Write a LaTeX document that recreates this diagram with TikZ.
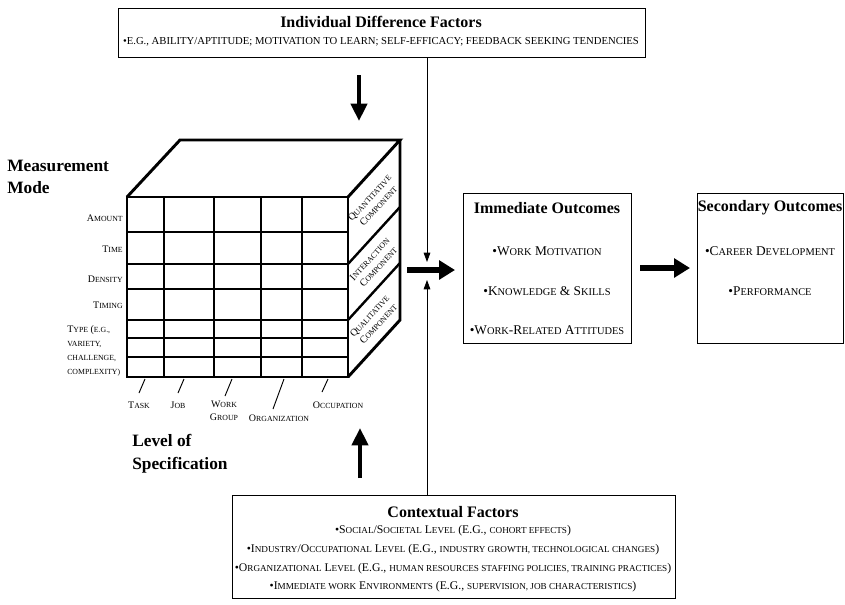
\documentclass[tikz,border=0pt]{standalone}
\usepackage{fontspec}
\setmainfont{Liberation Serif}
\usetikzlibrary{arrows.meta,fit}
\makeatletter
\newdimen\lcdim
\newcommand\lc[1]{{\lcdim=\f@size pt\lcdim=0.78\lcdim\fontsize{\lcdim}{\lcdim}\selectfont #1}}
\makeatother
\tikzset{
 box/.style={draw,line width=0.7pt,inner sep=0pt},
 ttl/.style={font=\fontsize{12}{14}\selectfont\bfseries,inner sep=0pt},
 bul/.style={font=\fontsize{10}{12}\selectfont,inner sep=0pt},
 ctxl/.style={font=\fontsize{8.8}{11}\selectfont,inner sep=0pt},
 axislbl/.style={font=\fontsize{13}{17}\selectfont\bfseries,inner sep=0pt,align=left,anchor=west},
 rowl/.style={font=\fontsize{7.5}{10.5}\selectfont,inner sep=0pt,anchor=east},
 coll/.style={font=\fontsize{7.5}{9.5}\selectfont,inner sep=0pt,align=center},
 sidel/.style={font=\fontsize{7.6}{9}\selectfont,inner sep=0pt,align=center,rotate=47.6},
 fatv/.style={line width=3pt,-{Triangle[length=13pt,width=12pt]}},
 fath/.style={line width=4pt,-{Triangle[length=12pt,width=14pt]}},
 thinarr/.style={line width=0.6pt,-{Triangle[length=7pt,width=5pt]}},
 outer/.style={line width=2.2pt,line join=miter},
 gridl/.style={line width=0.9pt},
 rowsep/.style={line width=1.8pt},
 tick/.style={line width=0.7pt},
}
\begin{document}
\begin{tikzpicture}[x=0.75pt,y=-0.75pt]
\useasboundingbox (0,0) rectangle (845,604);

% ---- boxes
\node[box,fit={(118,8) (645,57)}] (topbox) {};
\node[ttl] (toptitle) at (381,22) {Individual Difference Factors};
\node[inner sep=0pt,font=\fontsize{8}{10}\selectfont] (topline) at (381,42) {\textbullet E.G., ABILITY/APTITUDE; MOTIVATION TO LEARN; SELF-EFFICACY; FEEDBACK SEEKING TENDENCIES};

\node[box,fit={(463,193) (631,343)}] (imm) {};
\node[ttl] (immt) at (547,208) {Immediate Outcomes};
\node[bul] (imm1) at (547,251) {\textbullet W\lc{ORK} M\lc{OTIVATION}};
\node[bul] (imm2) at (547,291) {\textbullet K\lc{NOWLEDGE} \& S\lc{KILLS}};
\node[bul] (imm3) at (547,330) {\textbullet W\lc{ORK}-R\lc{ELATED} A\lc{TTITUDES}};

\node[box,fit={(697,193) (843,343)}] (sec) {};
\node[ttl] (sect) at (770,208) {Secondary Outcomes};
\node[bul] (sec1) at (770,251) {\textbullet C\lc{AREER} D\lc{EVELOPMENT}};
\node[bul] (sec2) at (770,291) {\textbullet P\lc{ERFORMANCE}};

\node[box,fit={(232,495) (675,598)}] (ctx) {};
\node[ttl] (ctxt) at (453,512) {Contextual Factors};
\node[ctxl] (ctx1) at (453,531) {\textbullet S\lc{OCIAL}/S\lc{OCIETAL} L\lc{EVEL} (E.G., \lc{COHORT EFFECTS})};
\node[ctxl] (ctx2) at (453,550) {\textbullet I\lc{NDUSTRY}/O\lc{CCUPATIONAL} L\lc{EVEL} (E.G., \lc{INDUSTRY GROWTH, TECHNOLOGICAL CHANGES})};
\node[ctxl] (ctx3) at (453,569) {\textbullet O\lc{RGANIZATIONAL} L\lc{EVEL} (E.G., \lc{HUMAN RESOURCES STAFFING POLICIES, TRAINING PRACTICES})};
\node[ctxl] (ctx4) at (453,587) {\textbullet I\lc{MMEDIATE WORK} E\lc{NVIRONMENTS} (E.G., \lc{SUPERVISION, JOB CHARACTERISTICS})};

% ---- cube
\foreach \x in {164,214,261,302} \draw[gridl] (\x,197) -- (\x,377);
\foreach \y in {232,289,338,357} \draw[gridl] (127,\y) -- (348,\y);
\foreach \y in {264,320} \draw[rowsep] (127,\y) -- (348,\y);
\draw[rowsep] (348,264) -- (400,207);
\draw[rowsep] (348,320) -- (400,263);
\draw[outer] (127,197) rectangle (348,377);
\draw[outer] (127,197) -- (180,140) -- (400,140) -- (348,197);
\draw[outer] (348,377) -- (400,320) -- (400,140);

\node[sidel] (sq1) at (374,202) {Q\lc{UANTITATIVE}\\C\lc{OMPONENT}};
\node[sidel] (sq2) at (374,263) {I\lc{NTERACTION}\\C\lc{OMPONENT}};
\node[sidel] (sq3) at (374,320) {Q\lc{UALITATIVE}\\C\lc{OMPONENT}};

% row labels
\node[rowl] (ramount) at (123,218) {A\lc{MOUNT}};
\node[rowl] (rtime) at (123,249) {T\lc{IME}};
\node[rowl] (rdens) at (123,279) {D\lc{ENSITY}};
\node[rowl] (rtiming) at (123,305) {T\lc{IMING}};
\node[rowl,anchor=west,align=left] (rtype) at (67,351) {T\lc{YPE} (\lc{E.G.,}\\\lc{VARIETY,}\\\lc{CHALLENGE,}\\\lc{COMPLEXITY)}};

% column labels and ticks
\node[coll] (ctask) at (139,405) {T\lc{ASK}};
\node[coll] (cjob) at (178,405) {J\lc{OB}};
\node[coll] (cwork) at (224,411) {W\lc{ORK}\\G\lc{ROUP}};
\node[coll] (corg) at (279,418) {O\lc{RGANIZATION}};
\node[coll] (cocc) at (338,405) {O\lc{CCUPATION}};
\draw[tick] (145,379) -- (139,393);
\draw[tick] (184,379) -- (178,393);
\draw[tick] (232,379) -- (225,396);
\draw[tick] (284,379) -- (273,409);
\draw[tick] (328,379) -- (322,392);

\node[axislbl] (mm) at (7,177) {Measurement\\Mode};
\node[axislbl] (ls) at (132,454) {Level of\\Specification};

% ---- arrows
\coordinate (dA) at (359,75); \coordinate (dB) at (359,121);
\draw[fatv] (dA) -- (dB);
\coordinate (uA) at (360,478); \coordinate (uB) at (360,428);
\draw[fatv] (uA) -- (uB);
\coordinate (jx) at (427,0);
\coordinate (tipD) at (427,262); \coordinate (tipU) at (427,280);
\draw[thinarr] (topbox.south -| jx) -- (tipD);
\draw[thinarr] (ctx.north -| jx) -- (tipU);
\coordinate (hA) at (407,270); \coordinate (hB) at (455,270);
\draw[fath] (hA) -- (hB);
\coordinate (mA) at (640,268); \coordinate (mB) at (690,268);
\draw[fath] (mA) -- (mB);
\end{tikzpicture}
\end{document}
